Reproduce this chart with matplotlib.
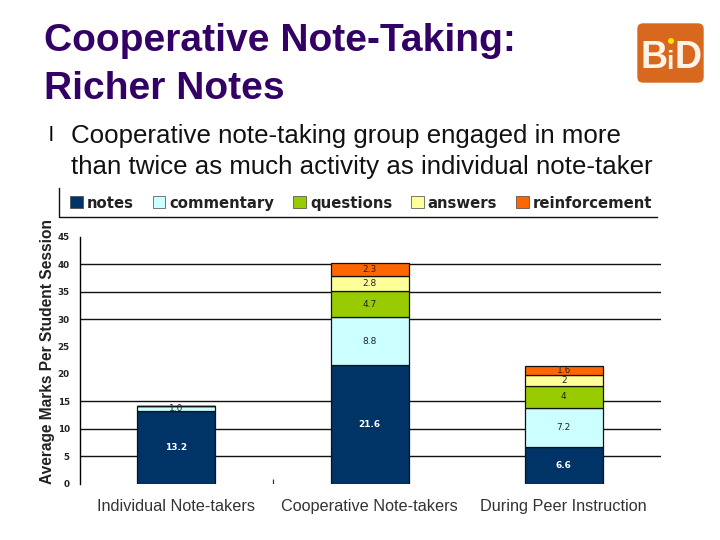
import matplotlib
matplotlib.use("Agg")
import matplotlib.pyplot as plt
from matplotlib.patches import FancyBboxPatch, Circle, Patch
import numpy as np

categories = ["Individual Note-takers", "Cooperative Note-takers", "During Peer Instruction"]
series_names = ["notes", "commentary", "questions", "answers", "reinforcement"]
notes = [13.2, 21.6, 6.6]
commentary = [1.0, 8.8, 7.2]
questions = [0, 4.7, 4]
answers = [0, 2.8, 2]
reinforcement = [0, 2.3, 1.6]
colors = ["#003366", "#CCFFFF", "#99CC00", "#FFFF99", "#FF6600"]
label_colors = ["white", "#222222", "#222222", "#222222", "#222222"]
gridlines = [5, 10, 15, 30, 35, 40]
yticks = [0, 5, 10, 15, 20, 25, 30, 35, 40, 45]
title_lines = ["Cooperative Note-Taking:", "Richer Notes"]
body_lines = ["Cooperative note-taking group engaged in more",
              "than twice as much activity as individual note-taker"]

W, H = 720, 540
fig = plt.figure(figsize=(W / 100, H / 100), dpi=100, facecolor="white")
plt.rcParams["font.family"] = ["Liberation Sans", "DejaVu Sans"]

def fx(p): return p / W
def fy(p): return 1 - p / H

for line, py in zip(title_lines, [41, 89]):
    fig.text(fx(44), fy(py), line, fontsize=28.1, color="#330066", va="center",
             family="Liberation Sans", fontweight="bold")
fig.text(fx(49), fy(136), "l", fontsize=15, color="black", va="center", family="Liberation Sans")
for line, py in zip(body_lines, [136, 167]):
    fig.text(fx(71), fy(py), line, fontsize=18.6, color="#111111", va="center", family="Liberation Sans")

ax = fig.add_axes([fx(79.5), fy(483.5), (660.7 - 79.5) / W, (483.5 - 237) / H])
x = np.arange(len(categories))
ax.set_xlim(-0.496, 2.5)
ax.set_ylim(0, 45)
ax.hlines(gridlines, -0.496, 2.5, color="#111111", lw=1.0, zorder=1)
ax.vlines([0.5], 0, 0.8, color="#333333", lw=0.9, zorder=1)

stack = [notes, commentary, questions, answers, reinforcement]
bottom = np.zeros(3)
for name, vals, c, lc in zip(series_names, stack, colors, label_colors):
    vals = np.array(vals, dtype=float)
    ax.bar(x, vals, 0.4, bottom=bottom, color=c, edgecolor="#111111", lw=0.9, zorder=2, label=name)
    for xi, b, v in zip(x, bottom, vals):
        if v > 0:
            text = "1.0" if v == 1.0 else f"{v:g}"
            ax.text(xi, b + v / 2, text, ha="center", va="center", color=lc, fontsize=6.5,
                    fontweight="bold" if lc == "white" else "normal", zorder=3,
                    family="DejaVu Sans")
    bottom += vals

for s in ["top", "right", "bottom"]:
    ax.spines[s].set_visible(False)
ax.spines["left"].set_linewidth(1.0)
ax.set_xticks(x)
ax.set_xticklabels(categories, fontsize=11.7, color="#333333", family="Liberation Sans")
ax.tick_params(axis="x", length=0, pad=11.5)
ax.set_yticks(yticks)
ax.set_yticklabels([str(t) for t in yticks], fontsize=6.3, fontweight="bold", color="#222222", family="DejaVu Sans")
ax.tick_params(axis="y", length=0, pad=7)

fig.text(fx(48), fy(351), "Average Marks Per Student Session", rotation=90, ha="center", va="center",
         fontsize=11.2, fontweight="bold", color="#222222", family="Liberation Sans")

# legend frame
fig.add_artist(plt.Line2D([fx(59), fx(59), fx(657)], [fy(188), fy(217), fy(217)], color="#111111", lw=1.0))
handles = [Patch(facecolor=c, edgecolor="#444444", lw=0.5) for c in colors]
fig.legend(handles, series_names, ncol=5, frameon=False, loc="center left",
           bbox_to_anchor=(fx(70), fy(203)), borderaxespad=0, borderpad=0,
           handlelength=0.87, handleheight=0.87, handletextpad=0.27, columnspacing=1.25,
           prop={"family": "DejaVu Sans", "weight": "bold", "size": 10.7}, labelcolor="#222222")

# logo
lax = fig.add_axes([fx(630), fy(90), 80 / W, 75 / H])
lax.set_xlim(630, 710); lax.set_ylim(90, 15); lax.axis("off")
lax.add_patch(FancyBboxPatch((638, 24), 65, 58, boxstyle="round,pad=0,rounding_size=5",
                             facecolor="#D9681F", edgecolor="#D9681F", lw=1))
lax.text(654, 58, "B", color="#FDF4E8", fontsize=27, ha="center", va="center", family="Liberation Sans", fontweight="bold")
lax.text(670, 62, "i", color="#FDF4E8", fontsize=19, ha="center", va="center", family="Liberation Sans", fontweight="bold")
lax.text(688, 58, "D", color="#FDF4E8", fontsize=27, ha="center", va="center", family="Liberation Sans", fontweight="bold")
lax.add_patch(Circle((671, 41), 3, facecolor="#FFE000", edgecolor="none"))

fig.savefig("out.png", dpi=100, facecolor="white")
